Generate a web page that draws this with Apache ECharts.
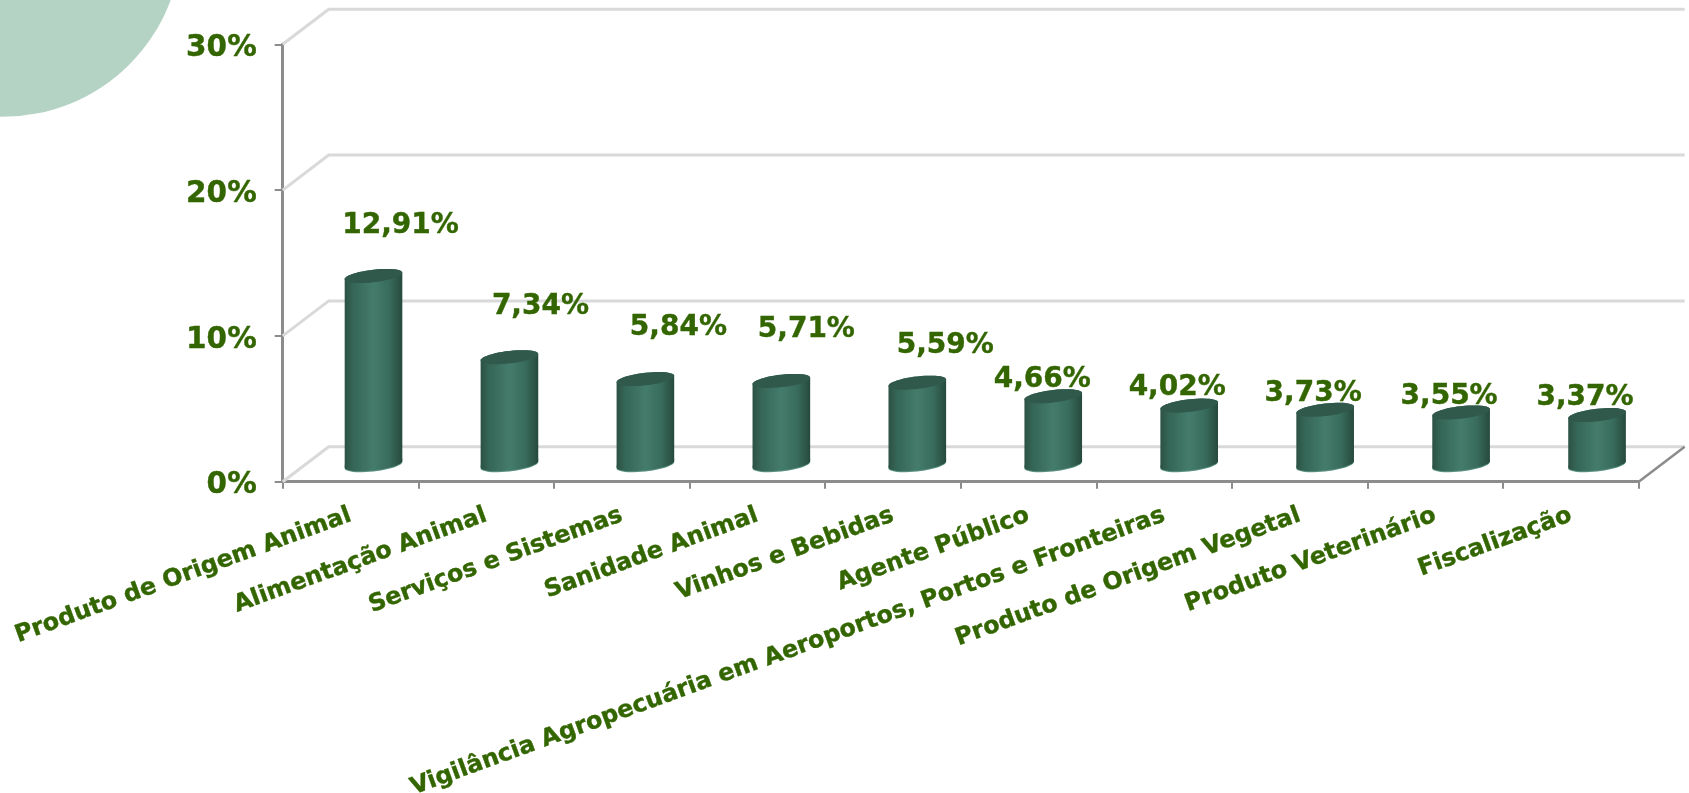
<!DOCTYPE html>
<html><head><meta charset="utf-8">
<style>html,body{margin:0;padding:0;background:#fff}#c{width:1689px;height:793px}</style>
<script src="https://cdn.jsdelivr.net/npm/echarts@6/dist/echarts.min.js"></script>
</head><body><div id="c"></div>
<script>
const categories = ["Produto de Origem Animal","Alimentação Animal","Serviços e Sistemas","Sanidade Animal","Vinhos e Bebidas","Agente Público","Vigilância Agropecuária em Aeroportos, Portos e Fronteiras","Produto de Origem Vegetal","Produto Veterinário","Fiscalização"];
const seriesValues = [12.91,7.34,5.84,5.71,5.59,4.66,4.02,3.73,3.55,3.37];
const valueTicks = [0,10,20,30];
// label placement relative to the top of each cylinder [dx, dy]
const labelOffsets = [[27,-50],[31,-50],[33,-51],[25,-51],[28,-37],[-11,-17],[-12,-18],[-12,-16],[-12,-16],[-12,-17]];

const TEXT = '#336600', FONT = '"DejaVu Sans"';
const DX = 46, DY = 35, GRID = {left:282.7, top:44.3, width:1356, height:437.4, outerBoundsMode:'none'};
const fmt = v => v.toFixed(2).replace('.', ',') + '%';

function ellipsePts(cx, cy, a, b, k, from, to, n) {
  const pts = [];
  for (let i = 0; i <= n; i++) {
    const t = from + (to - from) * i / n;
    pts.push([cx + a * Math.cos(t), cy + b * Math.sin(t) - k * Math.cos(t)]);
  }
  return pts;
}

const chart = echarts.init(document.getElementById('c'), null, {renderer:'canvas'});
chart.setOption({
  animation:false,
  backgroundColor:'#fff',
  graphic:[{type:'circle',silent:true,z:-1,shape:{cx:3,cy:-62,r:178.8},style:{fill:'#b4d3c4'}}],
  grid:GRID,
  xAxis:{type:'category',data:categories,
    axisLine:{show:true,lineStyle:{color:'#8c8c8c',width:3}},
    axisTick:{show:true,alignWithLabel:false,length:7,lineStyle:{color:'#8c8c8c',width:2}},
    axisLabel:{interval:0,rotate:20,margin:33,color:TEXT,fontFamily:FONT,fontWeight:'bold',fontSize:23.8,hideOverlap:false,textBorderColor:TEXT,textBorderWidth:0.4},
    splitLine:{show:false}},
  yAxis:{type:'value',min:0,max:30,interval:10,
    axisLine:{show:true,lineStyle:{color:'#8c8c8c',width:3}},
    axisTick:{show:true,length:8,lineStyle:{color:'#8c8c8c',width:2}},
    axisLabel:{formatter:'{value}%',margin:26,color:TEXT,fontFamily:FONT,fontWeight:'bold',fontSize:29.5,verticalAlign:'top',lineHeight:8,textBorderColor:TEXT,textBorderWidth:0.4},
    splitLine:{show:false}},
  series:[
    {type:'custom',name:'walls',silent:true,z:1,clip:false,
     data:valueTicks.map(v=>[0,v]),encode:{x:0,y:1},
     renderItem(params,api){
       const cs=params.coordSys, y=api.coord([0,api.value(1)])[1], L=cs.x, R=cs.x+cs.width;
       const els=[{type:'polyline',shape:{points:[[L,y],[L+DX,y-DY],[R+DX,y-DY]]},style:{fill:null,stroke:'#d9d9d9',lineWidth:3}}];
       if(api.value(1)===0) els.push({type:'line',shape:{x1:R,y1:y,x2:R+DX,y2:y-DY},style:{stroke:'#8c8c8c',lineWidth:2.5}});
       return {type:'group',children:els};
     }},
    {type:'custom',name:'Participação',z:3,clip:false,
     data:seriesValues.map((v,i)=>[i,v]),encode:{x:0,y:1},
     renderItem(params,api){
       const i=api.value(0), v=api.value(1);
       const band=api.size([1,0])[0], a=band*0.2125, b=6.3, k=3.2;
       const p0=api.coord([i,0]), p1=api.coord([i,v]);
       const cx=p0[0]+DX/2+i*0.35, yb=p0[1]-DY/2, yt=p1[1]-DY/2;
       const bodyPts=ellipsePts(cx,yb,a,b,k,Math.PI,0,24).concat(ellipsePts(cx,yt,a,b,k,0,-Math.PI,24));
       const bottomPts=ellipsePts(cx,yb+1,a,b,k,Math.PI,0,24).concat(ellipsePts(cx,yb-3,a,b,k,0,Math.PI,24));
       const off=labelOffsets[i];
       return {type:'group',children:[
         {type:'polygon',shape:{points:bottomPts},style:{fill:'#5f9484'}},
         {type:'polygon',shape:{points:bodyPts},style:{fill:{type:'linear',x:0,y:0,x2:1,y2:0,colorStops:[
           {offset:0,color:'#2b5144'},{offset:.14,color:'#356556'},{offset:.5,color:'#447c6b'},{offset:.78,color:'#386b5b'},{offset:1,color:'#26493d'}]}}},
         {type:'polygon',shape:{points:ellipsePts(cx,yt,a,b,k,0,Math.PI*2,48)},style:{fill:'#30594b'}},
         {type:'text',style:{x:cx+off[0],y:yt+off[1],text:fmt(v),fill:TEXT,font:'bold 28px '+FONT,align:'center',verticalAlign:'middle',stroke:TEXT,lineWidth:0.4}}
       ]};
     }}
  ]
});
</script></body></html>
